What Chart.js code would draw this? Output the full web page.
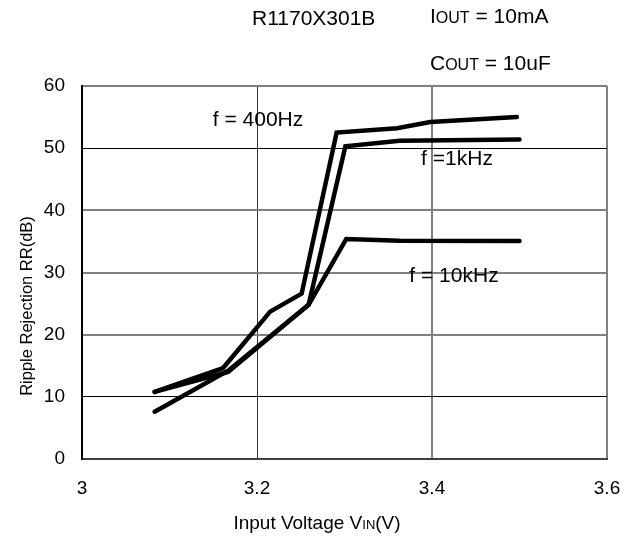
<!DOCTYPE html>
<html>
<head>
<meta charset="utf-8">
<script src="https://cdn.jsdelivr.net/npm/chart.js@4.4.0/dist/chart.umd.min.js"></script>
<style>
html,body{margin:0;padding:0;background:#fff;}
#wrap{width:639px;height:543px;position:relative;}
</style>
</head>
<body>
<div id="wrap"><canvas id="c" width="639" height="543"></canvas></div>
<script>
// Data
const vin400 = [3.083, 3.161, 3.215, 3.251, 3.291, 3.360, 3.398, 3.497];
const rr400  = [10.8, 14.6, 23.7, 26.6, 52.5, 53.2, 54.2, 55.0];
const vin1k  = [3.083, 3.167, 3.259, 3.301, 3.363, 3.500];
const rr1k   = [10.8, 14.0, 24.8, 50.3, 51.2, 51.4];
const vin10k = [3.083, 3.167, 3.259, 3.302, 3.363, 3.500];
const rr10k  = [7.6, 14.2, 24.8, 35.4, 35.1, 35.05];
const xTicks = [3, 3.2, 3.4, 3.6];
const yTicks = [0, 10, 20, 30, 40, 50, 60];
const seriesLabels = ['f = 400Hz', 'f =1kHz', 'f = 10kHz'];

const FONT = 'Liberation Sans, Arial, sans-serif';
const toPts = (xs, ys) => xs.map((x, i) => ({x: x, y: ys[i]}));

const lineStyle = {
  borderColor: '#000', borderWidth: 4.5, pointRadius: 0, tension: 0,
  fill: false, borderCapStyle: 'round', borderJoinStyle: 'miter'
};

// Draw runs of text with mixed sizes (for subscripts like OUT, IN)
function drawRuns(ctx, runs, x, y, align) {
  let total = 0;
  runs.forEach(r => { ctx.font = r.size + 'px ' + FONT; total += ctx.measureText(r.t).width; });
  let cx = align === 'center' ? x - total / 2 : x;
  ctx.textBaseline = 'alphabetic';
  ctx.textAlign = 'left';
  runs.forEach(r => {
    ctx.font = r.size + 'px ' + FONT;
    ctx.fillText(r.t, cx, y);
    cx += ctx.measureText(r.t).width;
  });
}

const textPlugin = {
  id: 'texts',
  afterDraw(chart) {
    const ctx = chart.ctx;
    ctx.save();
    ctx.fillStyle = '#000';
    // header
    drawRuns(ctx, [{t: 'R1170X301B', size: 21}], 252, 25, 'left');
    drawRuns(ctx, [{t: 'I', size: 21}, {t: 'OUT', size: 16}, {t: ' = 10mA', size: 21}], 430, 23, 'left');
    drawRuns(ctx, [{t: 'C', size: 21}, {t: 'OUT', size: 16}, {t: ' = 10uF', size: 21}], 430, 70, 'left');
    // series labels
    drawRuns(ctx, [{t: seriesLabels[0], size: 21}], 258, 126, 'center');
    drawRuns(ctx, [{t: seriesLabels[1], size: 21}], 457, 165, 'center');
    drawRuns(ctx, [{t: seriesLabels[2], size: 21}], 454, 282, 'center');
    // x axis title
    drawRuns(ctx, [{t: 'Input Voltage V', size: 19}, {t: 'IN', size: 13}, {t: '(V)', size: 19}], 317, 529, 'center');
    // y axis title
    ctx.translate(32, 306);
    ctx.rotate(-Math.PI / 2);
    drawRuns(ctx, [{t: 'Ripple Rejection RR(dB)', size: 16.5}], 0, 0, 'center');
    ctx.restore();
  }
};

new Chart(document.getElementById('c'), {
  type: 'line',
  data: {
    datasets: [
      Object.assign({label: seriesLabels[0], data: toPts(vin400, rr400)}, lineStyle),
      Object.assign({label: seriesLabels[1], data: toPts(vin1k, rr1k)}, lineStyle),
      Object.assign({label: seriesLabels[2], data: toPts(vin10k, rr10k)}, lineStyle)
    ]
  },
  options: {
    responsive: false,
    animation: false,
    layout: {padding: {top: 86, right: 32, left: 0, bottom: 0}},
    plugins: {legend: {display: false}, tooltip: {enabled: false}},
    scales: {
      x: {
        type: 'linear', min: 3, max: 3.6,
        afterBuildTicks: s => { s.ticks = xTicks.map(v => ({value: v})); },
        afterFit: s => { s.height = 84; },
        ticks: {
          font: {family: FONT, size: 19}, color: '#000', padding: 18,
          callback: v => String(Math.round(v * 10) / 10)
        },
        grid: {
          drawTicks: false,
          color: c => (c.tick && Math.abs(c.tick.value - 3.2) < 1e-6) ? '#333' : '#808080',
          lineWidth: c => (c.tick && Math.abs(c.tick.value - 3.2) < 1e-6) ? 1 : 2
        },
        border: {color: '#404040', width: 2}
      },
      y: {
        type: 'linear', min: 0, max: 60,
        afterBuildTicks: s => { s.ticks = yTicks.map(v => ({value: v})); },
        afterFit: s => { s.width = 82; },
        ticks: {font: {family: FONT, size: 19}, color: '#000', padding: 17},
        grid: {
          drawTicks: false,
          color: c => (c.tick && (c.tick.value === 50 || c.tick.value === 10)) ? '#000' : '#808080',
          lineWidth: c => (c.tick && (c.tick.value === 50 || c.tick.value === 10)) ? 1 : 2
        },
        border: {color: '#000', width: 2}
      }
    }
  },
  plugins: [textPlugin]
});
</script>
</body>
</html>
